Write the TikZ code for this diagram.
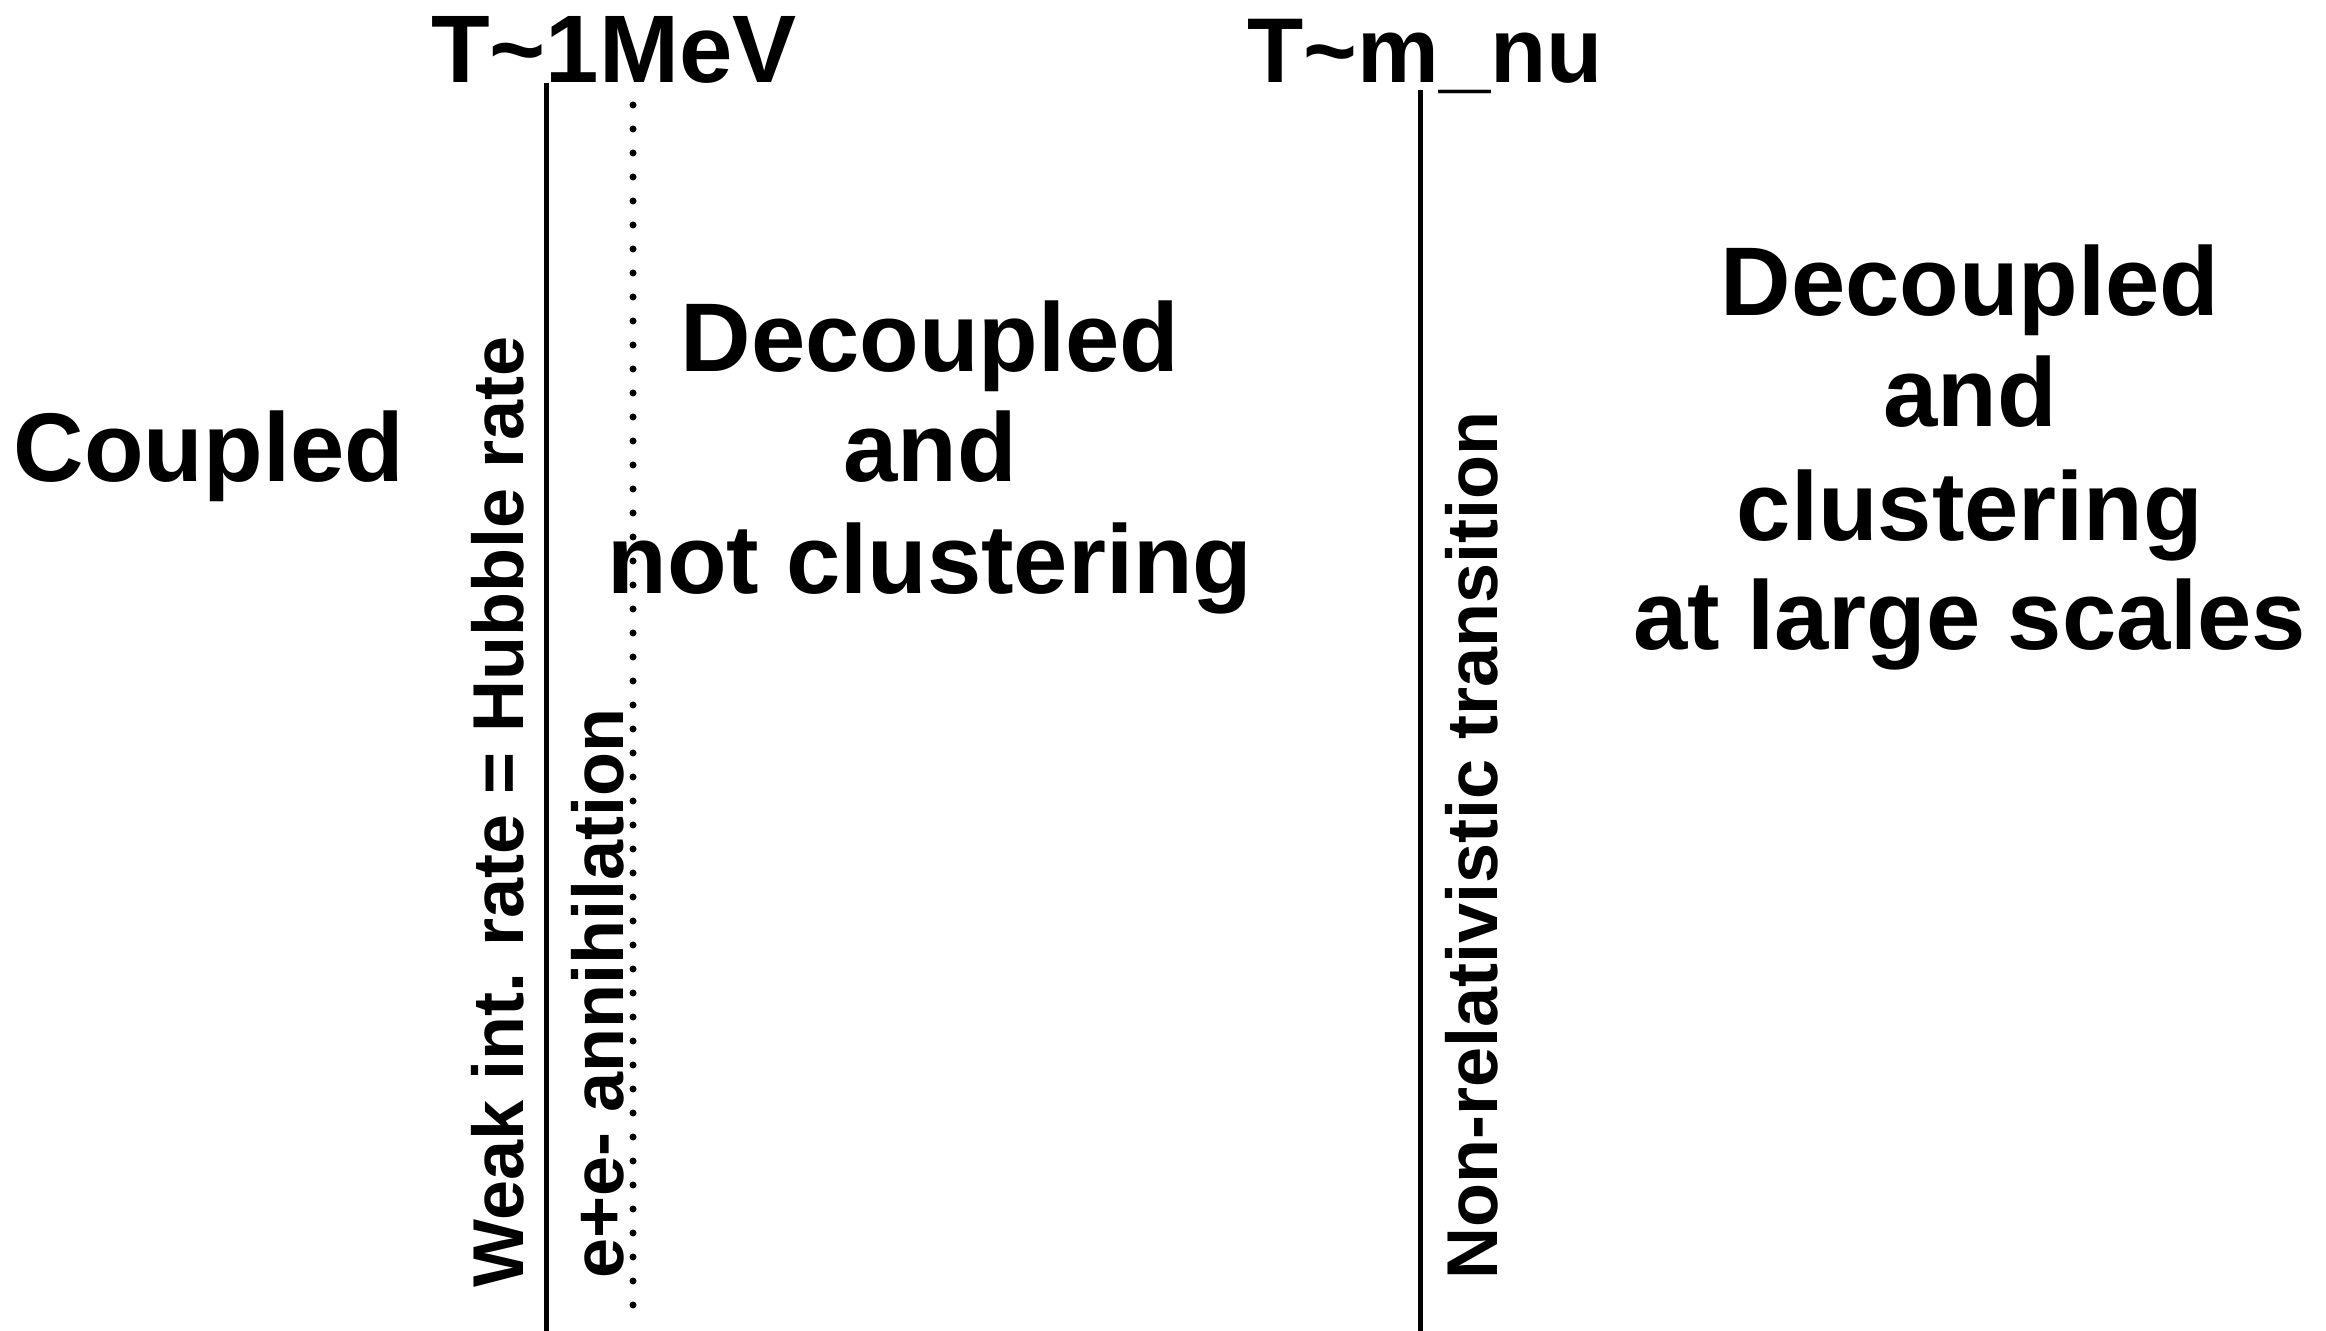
\documentclass[tikz,border=0pt]{standalone}
\usepackage{fontspec}
\setmainfont{Liberation Sans}
\begin{document}
\begin{tikzpicture}[x=0.5pt,y=-0.5pt,
  big/.style={font=\fontsize{48.8}{55}\selectfont\bfseries, inner sep=0pt, anchor=base},
  toplabel/.style={font=\fontsize{48}{55}\selectfont\bfseries, inner sep=0pt, anchor=base},
  vert/.style={font=\fontsize{36}{40}\selectfont\bfseries, inner sep=0pt, rotate=90, anchor=base west},
  solidline/.style={line width=2.5pt},
  dotline/.style={line width=3.5pt, line cap=round, dash pattern=on 0pt off 12pt}]
\useasboundingbox[fill=white] (0,0) rectangle (2326,1331);

% vertical lines
\coordinate (l1top) at (546,83);
\coordinate (l1bot) at (546,1331);
\coordinate (d1top) at (633,105);
\coordinate (d1bot) at (633,1310);
\coordinate (l2top) at (1420,90);
\coordinate (l2bot) at (1420,1331);
\draw[solidline] (l1top) -- (l1bot);
\draw[dotline] (d1top) -- (d1bot);
\draw[solidline] (l2top) -- (l2bot);

% top labels
\node[toplabel] (tmev) at (614,83) {T\textasciitilde 1MeV};
\node[toplabel, font=\fontsize{46}{55}\selectfont\bfseries] (tmnu) at (1425,83) {T\textasciitilde m\_nu};

% regions
\node[big] (coupled) at (209,482) {Coupled};

\node[big] (dec1) at (930,372) {Decoupled};
\node[big] (and1) at (930,482) {and};
\node[big] (notc) at (930,594) {not clustering};

\node[big] (dec2) at (1970,316) {Decoupled};
\node[big] (and2) at (1970,427) {and};
\node[big] (clus) at (1970,541) {clustering};
\node[big] (large) at (1970,650) {at large scales};

% vertical labels
\node[vert] (weak) at (523,1288) {Weak int. rate = Hubble rate};
\node[vert] (ann) at (623,1279) {e+e- annihilation};
\node[vert] (nonrel) at (1497,1280) {Non-relativistic transition};
\end{tikzpicture}
\end{document}
